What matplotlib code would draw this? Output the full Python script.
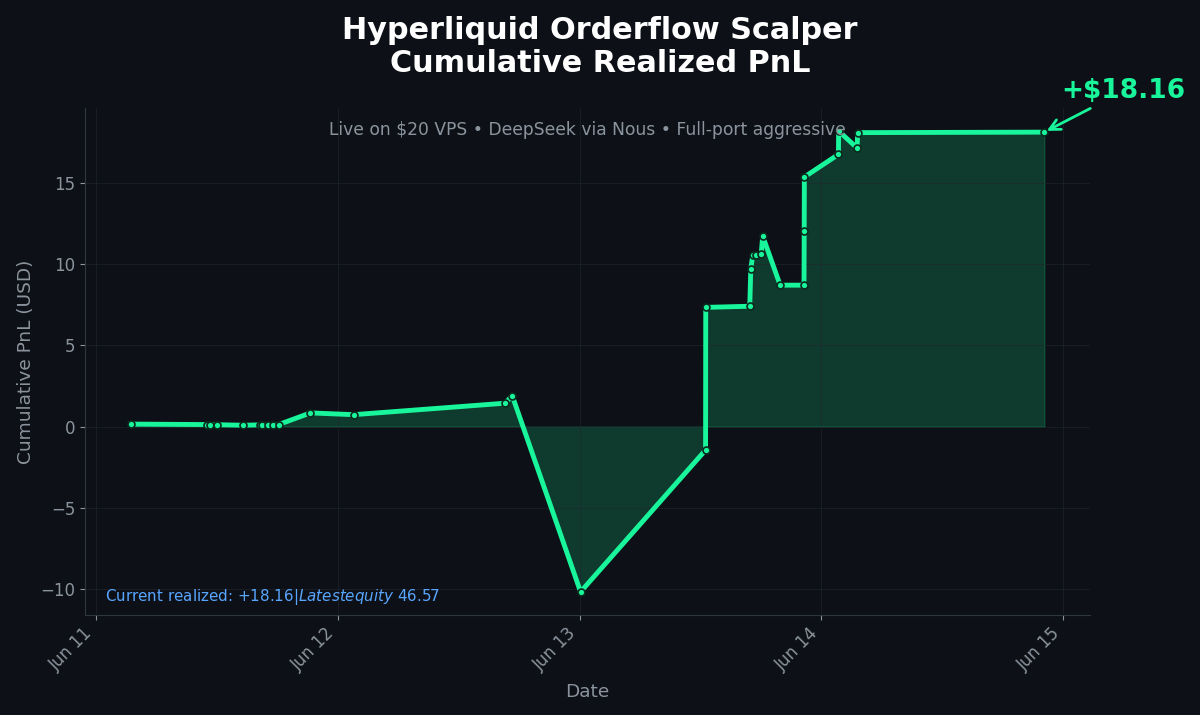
import matplotlib
matplotlib.use("Agg")
import matplotlib.pyplot as plt
import matplotlib.dates as mdates
import numpy as np

# trade close times and cumulative realized pnl
times = [
    "2025-06-11T03:28", "2025-06-11T11:00", "2025-06-11T11:18", "2025-06-11T12:00",
    "2025-06-11T14:36", "2025-06-11T16:18", "2025-06-11T16:30", "2025-06-11T17:04",
    "2025-06-11T17:33", "2025-06-11T18:09", "2025-06-11T21:18", "2025-06-12T01:35",
    "2025-06-12T16:38", "2025-06-12T17:19", "2025-06-13T00:06", "2025-06-13T12:30",
    "2025-06-13T12:31", "2025-06-13T16:53", "2025-06-13T16:59", "2025-06-13T17:11",
    "2025-06-13T17:31", "2025-06-13T18:01", "2025-06-13T18:10", "2025-06-13T19:54",
    "2025-06-13T22:16", "2025-06-13T22:17", "2025-06-13T22:18", "2025-06-14T01:41",
    "2025-06-14T01:42", "2025-06-14T03:32", "2025-06-14T03:35", "2025-06-14T22:06",
]
pnl = [
    0.15, 0.12, 0.12, 0.11,
    0.08, 0.10, 0.10, 0.10,
    0.11, 0.12, 0.84, 0.73,
    1.44, 1.91, -10.20, -1.45,
    7.35, 7.42, 9.69, 10.60,
    10.60, 10.62, 11.75, 8.72,
    8.72, 12.06, 15.39, 16.79,
    18.23, 17.18, 18.13, 18.16,
]

title = "Hyperliquid Orderflow Scalper\nCumulative Realized PnL"
subtitle = "Live on \\$20 VPS • DeepSeek via Nous • Full-port aggressive"
footer = "Current realized: +18.16|$Latest equity$ 46.57"

BG = "#0d1117"
GREEN = "#19f59b"
GREY = "#8b949e"

x = np.array(times, dtype="datetime64[m]").astype("O")
y = np.array(pnl)

fig = plt.figure(figsize=(12, 7.15), dpi=100, facecolor=BG)
ax = fig.add_axes([0.0708, 0.14, 0.8375, 0.709])
ax.set_facecolor(BG)

ax.fill_between(x, y, 0, color=GREEN, alpha=0.19, lw=1)
ax.plot(x, y, color=GREEN, lw=3.5, marker="o", markersize=5,
        markerfacecolor=GREEN, markeredgecolor="#0a2a1e", markeredgewidth=1.2, zorder=3)

ax.annotate(f"+${pnl[-1]:.2f}", xy=(x[-1], y[-1]), xytext=(57, 20),
            textcoords="offset points", color=GREEN, fontsize=19, fontweight="bold",
            ha="center", va="bottom",
            arrowprops=dict(arrowstyle="->", color=GREEN, lw=2))

fig.suptitle(title, color="white", fontsize=21.8, fontweight="bold", y=0.978)
ax.text(0.5, 0.975, subtitle, transform=ax.transAxes, ha="center", va="top",
        color=GREY, fontsize=12.3)
ax.text(0.02, 0.016, footer, transform=ax.transAxes, ha="left", va="bottom",
        color="#58a6ff", fontsize=10.9)

ax.xaxis.set_major_locator(mdates.DayLocator())
ax.xaxis.set_major_formatter(mdates.DateFormatter("%b %d"))
plt.setp(ax.get_xticklabels(), rotation=45, ha="right")

ax.set_xlabel("Date", color=GREY, fontsize=13.3, labelpad=6)
ax.set_ylabel("Cumulative PnL (USD)", color=GREY, fontsize=13.3)
ax.tick_params(colors=GREY, labelsize=12)
ax.grid(True, color="#21262d", lw=0.8, alpha=0.6)
for side in ["top", "right"]:
    ax.spines[side].set_visible(False)
for side in ["left", "bottom"]:
    ax.spines[side].set_color("#30363d")

fig.savefig("out.png", dpi=100, facecolor=BG)
